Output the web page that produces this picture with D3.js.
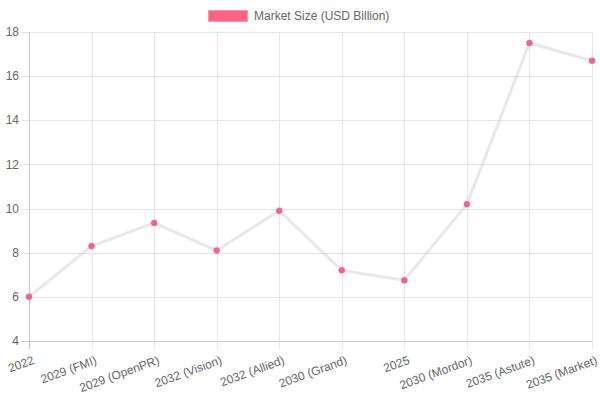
<!DOCTYPE html>
<html>
<head>
<meta charset="utf-8">
<script src="https://cdn.jsdelivr.net/npm/d3@7"></script>
<style>
  body { margin: 0; background: #fff; }
  text { font-family: "Liberation Sans", Arial, Helvetica, sans-serif; }
</style>
</head>
<body>
<svg id="chart" width="600" height="400"></svg>
<script>
// data
const categories = ["2022", "2029 (FMI)", "2029 (OpenPR)", "2032 (Vision)", "2032 (Allied)",
  "2030 (Grand)", "2025", "2030 (Mordor)", "2035 (Astute)", "2035 (Market)"];
const marketSize = [6.0, 8.3, 9.35, 8.1, 9.9, 7.2, 6.75, 10.2, 17.5, 16.7];
const yTicks = [4, 6, 8, 10, 12, 14, 16, 18];
const seriesName = "Market Size (USD Billion)";

const margin = {top: 32, right: 8, bottom: 59, left: 29};
const width = 600, height = 400;

const svg = d3.select("#chart");

const x = d3.scalePoint()
  .domain(categories)
  .range([margin.left, width - margin.right]);

const y = d3.scaleLinear()
  .domain([4, 18])
  .range([height - margin.bottom, margin.top]);

// grid lines
const grid = svg.append("g").attr("class", "grid");

grid.selectAll(".hgrid")
  .data(yTicks)
  .enter().append("line")
  .attr("x1", margin.left - 8)
  .attr("x2", width - margin.right)
  .attr("y1", d => Math.round(y(d)) + 0.5)
  .attr("y2", d => Math.round(y(d)) + 0.5)
  .style("stroke", d => d === 4 ? "#c8c8c8" : "#e6e6e6")
  .style("stroke-width", 1);

grid.selectAll(".vgrid")
  .data(categories)
  .enter().append("line")
  .attr("x1", d => Math.round(x(d)) + 0.5)
  .attr("x2", d => Math.round(x(d)) + 0.5)
  .attr("y1", margin.top)
  .attr("y2", height - margin.bottom + 8)
  .style("stroke", (d, i) => i === 0 ? "#c8c8c8" : "#e6e6e6")
  .style("stroke-width", 1);

// y tick labels
svg.selectAll(".ylabel")
  .data(yTicks)
  .enter().append("text")
  .attr("x", margin.left - 10)
  .attr("y", d => y(d))
  .attr("dy", "0.35em")
  .attr("text-anchor", "end")
  .style("font-size", "12px")
  .style("fill", "#666")
  .text(d => d);

// x tick labels, rotated
svg.selectAll(".xlabel")
  .data(categories)
  .enter().append("text")
  .attr("transform", d => "translate(" + (x(d) + 3) + "," + (height - margin.bottom + 14) + ") rotate(-20)")
  .attr("text-anchor", "end")
  .attr("dy", "0.75em")
  .style("font-size", "12px")
  .style("fill", "#666")
  .text(d => d);

// the line
const line = d3.line()
  .x((d, i) => x(categories[i]))
  .y(d => y(d));

svg.append("path")
  .datum(marketSize)
  .attr("d", line)
  .style("fill", "none")
  .style("stroke", "rgba(201,203,207,0.45)")
  .style("stroke-width", 3)
  .style("stroke-linejoin", "round");

// points
svg.selectAll(".pt")
  .data(marketSize)
  .enter().append("circle")
  .attr("cx", (d, i) => x(categories[i]))
  .attr("cy", d => y(d))
  .attr("r", 3)
  .style("fill", "#f06292")
  .style("stroke", "rgba(255,99,132,0.6)")
  .style("stroke-width", 1);

// legend
const legend = svg.append("g");
legend.append("rect")
  .attr("x", 208.5).attr("y", 10.5)
  .attr("width", 39).attr("height", 11)
  .style("fill", "rgb(255,99,132)")
  .style("stroke", "rgba(255,99,132,0.4)")
  .style("stroke-width", 1);
legend.append("text")
  .attr("x", 254).attr("y", 16)
  .attr("dy", "0.35em")
  .style("font-size", "12px")
  .style("fill", "#666")
  .text(seriesName);
</script>
</body>
</html>
